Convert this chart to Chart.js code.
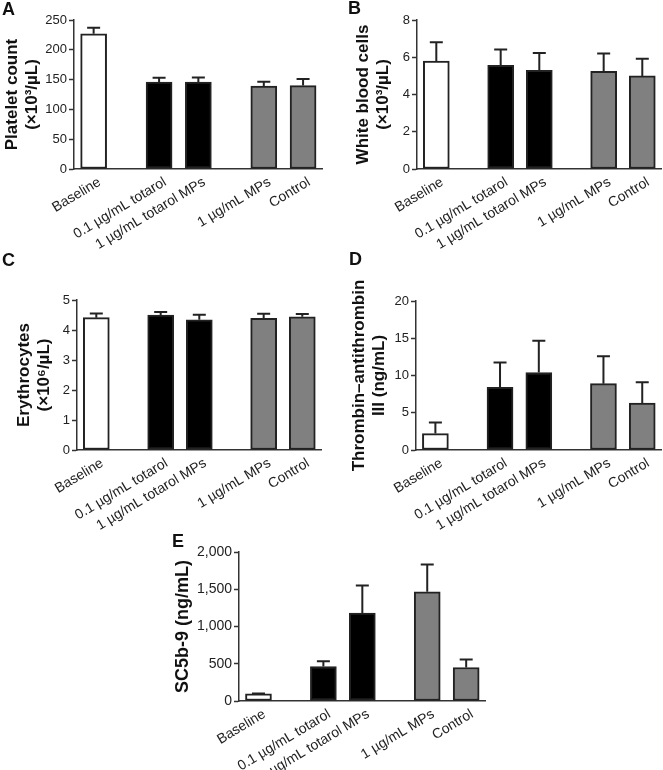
<!DOCTYPE html>
<html><head><meta charset="utf-8">
<script src="https://cdn.jsdelivr.net/npm/chart.js@4/dist/chart.umd.min.js"></script>
<style>
html,body{margin:0;padding:0;background:#fff;width:663px;height:770px;overflow:hidden;position:relative;font-family:"Liberation Sans",Arial,sans-serif}
canvas{position:absolute}
.letter{position:absolute;font-weight:bold;font-size:18px;line-height:18px;color:#111}
</style></head><body>
<canvas id="cA"></canvas>
<canvas id="cB"></canvas>
<canvas id="cC"></canvas>
<canvas id="cD"></canvas>
<canvas id="cE"></canvas>
<div class="letter" style="left:2px;top:0px">A</div>
<div class="letter" style="left:348px;top:-1px">B</div>
<div class="letter" style="left:2px;top:251px">C</div>
<div class="letter" style="left:349px;top:250px">D</div>
<div class="letter" style="left:172px;top:532px">E</div>
<script>
// ---------- data ----------
const categories = ['Baseline', '0.1 µg/mL totarol', '1 µg/mL totarol MPs', '1 µg/mL MPs', 'Control'];

const plateletMean = [227, 146, 146, 139, 140];
const plateletErr  = [10, 7, 7.5, 7.5, 11];
const plateletTicks = [0, 50, 100, 150, 200, 250];

const wbcMean = [5.8, 5.57, 5.3, 5.25, 5.0];
const wbcErr  = [1.0, 0.85, 0.93, 0.95, 0.92];
const wbcTicks = [0, 2, 4, 6, 8];

const eryMean = [4.41, 4.5, 4.34, 4.39, 4.44];
const eryErr  = [0.14, 0.1, 0.17, 0.15, 0.09];
const eryTicks = [0, 1, 2, 3, 4, 5];

const tatMean = [2.2, 8.4, 10.4, 8.9, 6.3];
const tatErr  = [1.5, 3.35, 4.25, 3.7, 2.8];
const tatTicks = [0, 5, 10, 15, 20];

const sc5Mean = [95, 463, 1180, 1465, 450];
const sc5Err  = [5, 71, 370, 366, 107];
const sc5Ticks = [0, 500, 1000, 1500, 2000];

// ---------- layout / style ----------
const SLOTS = 19;
const slotOf = [1, 6, 9, 14, 17];          // where each group sits along the axis (gaps between groups)
const fills = ['#ffffff', '#000000', '#000000', '#808080', '#808080'];
const INK = '#222';
const FONT = '"Liberation Sans", Arial, Helvetica, sans-serif';

function spread(arr, blank) {
  const out = new Array(SLOTS).fill(blank);
  arr.forEach((v, i) => { out[slotOf[i]] = v; });
  return out;
}

const errorBarPlugin = {
  id: 'errorBars',
  afterDatasetsDraw(chart) {
    const ctx = chart.ctx;
    const ds = chart.data.datasets[0];
    const meta = chart.getDatasetMeta(0);
    const ys = chart.scales.y;
    ctx.save();
    ctx.strokeStyle = INK;
    ctx.lineWidth = 2;
    meta.data.forEach((bar, i) => {
      const v = ds.data[i], e = ds.errors[i];
      if (v == null || e == null) return;
      const base = ys.getPixelForValue(v);
      const top = ys.getPixelForValue(v + e);
      ctx.beginPath();
      ctx.moveTo(bar.x, base); ctx.lineTo(bar.x, top);
      ctx.moveTo(bar.x - 6.5, top); ctx.lineTo(bar.x + 6.5, top);
      ctx.stroke();
    });
    ctx.restore();
  }
};

function makePanel(id, p, mean, err, ticks, title) {
  const cv = document.getElementById(id);
  const PADT = 40;
  const T = p.topY - PADT;
  const XH = 90;
  const W = p.rightX + 7 - p.L;
  const H = p.zeroY - T + XH;
  cv.width = W; cv.height = H;
  cv.style.left = p.L + 'px'; cv.style.top = T + 'px';
  cv.style.width = W + 'px'; cv.style.height = H + 'px';
  const titleLH = 20;
  const padL = Math.max(0, Math.round(p.line1X - p.L - 1 - titleLH / 2));
  const yWidth = p.axisX - p.L - padL;

  new Chart(cv, {
    type: 'bar',
    data: {
      labels: spread(categories, ''),
      datasets: [{
        data: spread(mean, null),
        errors: spread(err, null),
        backgroundColor: spread(fills, '#fff'),
        borderColor: INK,
        borderWidth: 2,
        borderSkipped: false,
        barThickness: 26
      }]
    },
    options: {
      responsive: false,
      animation: false,
      devicePixelRatio: 1,
      layout: { padding: { left: padL, top: PADT, right: 7, bottom: 0 } },
      plugins: { legend: { display: false }, tooltip: { enabled: false } },
      scales: {
        x: {
          type: 'category',
          offset: true,
          grid: { display: false, drawTicks: false },
          border: { display: true, color: '#333', width: 1.5 },
          ticks: {
            autoSkip: false, maxRotation: 31, minRotation: 31, padding: 5, labelOffset: 6,
            color: INK, font: { family: FONT, size: 14 }
          },
          afterFit(s) { s.height = XH; }
        },
        y: {
          min: ticks[0], max: ticks[ticks.length - 1],
          grid: { drawOnChartArea: false, drawTicks: true, tickLength: 5, tickColor: '#333', tickWidth: 1.5 },
          border: { display: true, color: '#333', width: 1.5 },
          ticks: {
            padding: 2, color: INK, font: { family: FONT, size: p.tickSize },
            callback: v => Number(v).toLocaleString('en-US')
          },
          afterBuildTicks(s) { s.ticks = ticks.map(v => ({ value: v })); },
          title: {
            display: true, text: title, color: '#111',
            padding: { top: 1, bottom: 0 },
            font: { family: FONT, size: p.titleSize, weight: 'bold', lineHeight: titleLH / p.titleSize }
          },
          afterFit(s) { s.width = yWidth; }
        }
      }
    },
    plugins: [errorBarPlugin]
  });
}

makePanel('cA', { L: 0,   axisX: 74,  topY: 20,  zeroY: 169, rightX: 323, line1X: 12, tickSize: 13, titleSize: 17 },
  plateletMean, plateletErr, plateletTicks, ['Platelet count', '(×10³/µL)']);
makePanel('cB', { L: 330, axisX: 417, topY: 20,  zeroY: 169, rightX: 662, line1X: 363, tickSize: 13, titleSize: 17 },
  wbcMean, wbcErr, wbcTicks, ['White blood cells', '(×10³/µL)']);
makePanel('cC', { L: 0,   axisX: 77,  topY: 300, zeroY: 450, rightX: 322, line1X: 24, tickSize: 13, titleSize: 17 },
  eryMean, eryErr, eryTicks, ['Erythrocytes', '(×10⁶/µL)']);
makePanel('cD', { L: 330, axisX: 416, topY: 301, zeroY: 450, rightX: 662, line1X: 359, tickSize: 13, titleSize: 17 },
  tatMean, tatErr, tatTicks, ['Thrombin–antithrombin', 'III (ng/mL)']);
makePanel('cE', { L: 165, axisX: 239, topY: 552, zeroY: 701, rightX: 486, line1X: 183, tickSize: 14, titleSize: 18 },
  sc5Mean, sc5Err, sc5Ticks, 'SC5b-9 (ng/mL)');
</script>
</body></html>
